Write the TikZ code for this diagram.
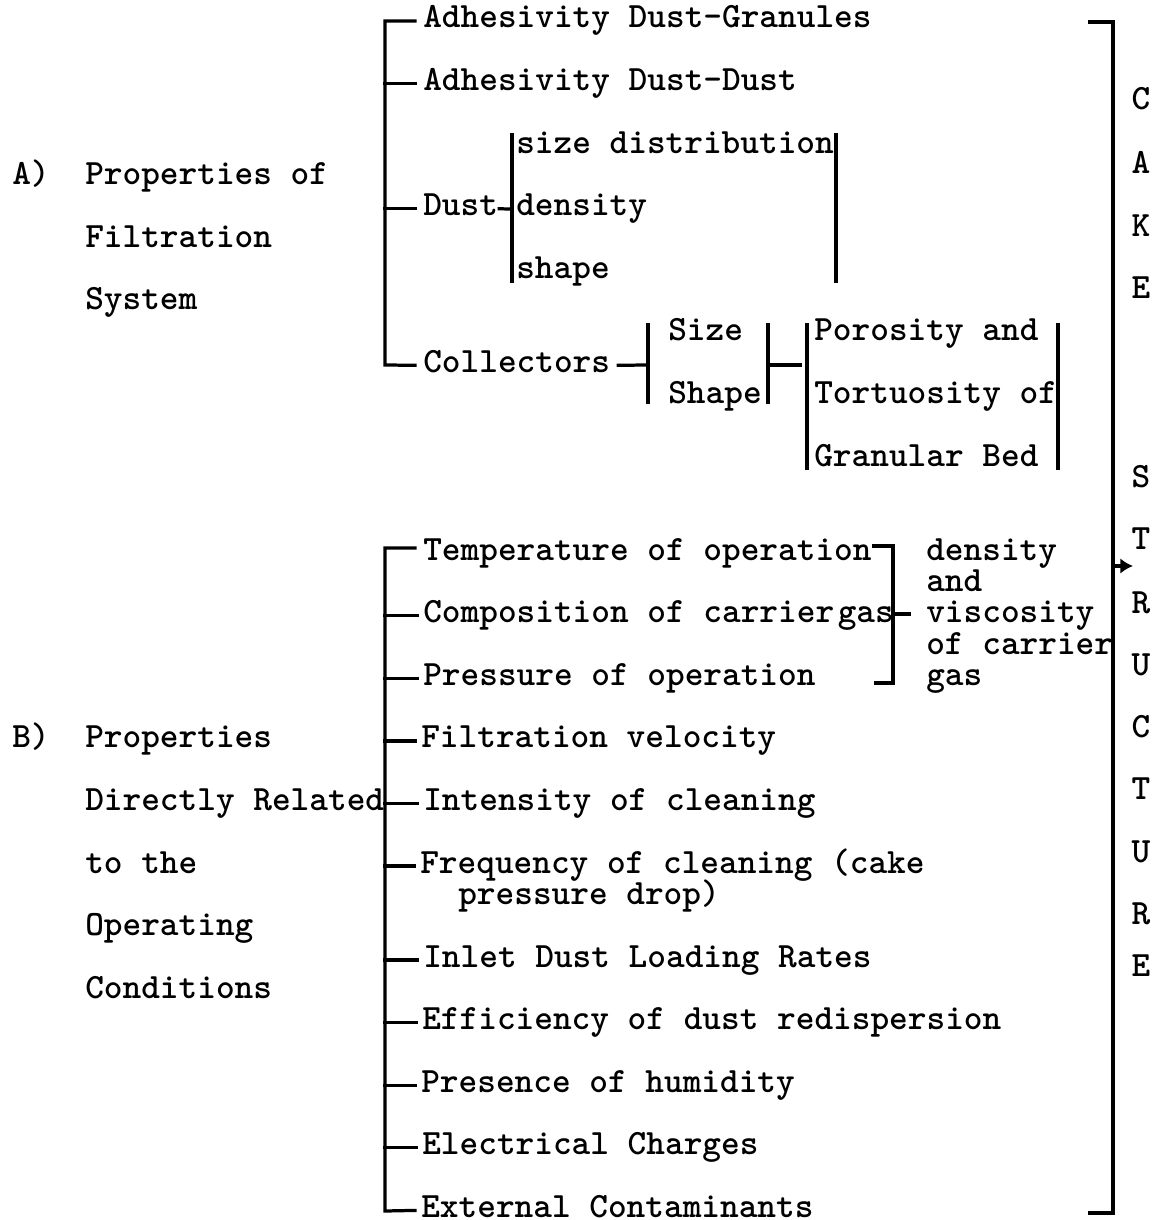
\documentclass[tikz,border=0pt]{standalone}
\usetikzlibrary{arrows.meta}

\newcommand{\typewr}{\fontsize{25.3}{30}\selectfont\ttfamily\bfseries}

\tikzset{
  txt/.style={anchor=base west, inner sep=0pt, font=\typewr},
  ltr/.style={anchor=center, inner sep=0pt, font=\typewr},
  brk/.style={line width=2.3pt, line cap=rect},
}

\begin{document}
\begin{tikzpicture}[x=0.025cm, y=-0.025cm]
\useasboundingbox (0,0) rectangle (1159,1220);

% group A: filtration system
\node[txt] (lblA) at (12,184.5) {A)};
\node[txt] (pA1) at (85,184.5) {Properties of};
\node[txt] (pA2) at (85,247.1) {Filtration};
\node[txt] (pA3) at (85,309.7) {System};

\node[txt] (adhG) at (423,28) {Adhesivity Dust-Granules};
\node[txt] (adhD) at (423,90.6) {Adhesivity Dust-Dust};
\node[txt] (dust) at (423,215.8) {Dust};
\node[txt] (sizeD) at (516,153.2) {size distribution};
\node[txt] (dens) at (516,215.8) {density};
\node[txt] (shp) at (516,278.4) {shape};
\node[txt] (coll) at (423,372.3) {Collectors};
\node[txt] (csize) at (668,341) {Size};
\node[txt] (cshape) at (668,403.6) {Shape};
\node[txt] (poro) at (814,341) {Porosity and};
\node[txt] (tort) at (814,403.6) {Tortuosity of};
\node[txt] (gran) at (814,466.2) {Granular Bed};

\draw[brk] ([shift={(-8,-7)}]adhG.base west) -| (385,365) -- ([shift={(-8,-7)}]coll.base west);
\draw[brk] ([shift={(-8,-7)}]adhD.base west) -- ++(-30,0);
\draw[brk] ([shift={(-8,-7)}]dust.base west) -- ++(-30,0);

\draw[brk] ([shift={(1,-7)}]dust.base east) -- (512,209);
\draw[brk] (512,135) -- (512,281);
\draw[brk] (836,135) -- (836,281);

\draw[brk] ([shift={(8,-7)}]coll.base east) -- (647,365);
\draw[brk] (648,325) -- (648,402);
\draw[brk] (768,325) -- (768,402);
\draw[brk] (768,365) -- (800,365);
\draw[brk] (807,325) -- (807,468);
\draw[brk] (1058,325) -- (1058,468);

% group B: operating conditions
\node[txt] (lblB) at (12,747.9) {B)};
\node[txt] (pB1) at (85,747.9) {Properties};
\node[txt] (pB2) at (85,810.5) {Directly Related};
\node[txt] (pB3) at (85,873.1) {to the};
\node[txt] (pB4) at (85,935.7) {Operating};
\node[txt] (pB5) at (85,998.3) {Conditions};

\node[txt] (temp) at (423,560.1) {Temperature of operation};
\node[txt] (comp) at (423,622.7) {Composition of carrier\kern0.1em gas};
\node[txt] (press) at (423,685.3) {Pressure of operation};
\node[txt] (filt) at (421,747.9) {Filtration velocity};
\node[txt] (inten) at (423,810.5) {Intensity of cleaning};
\node[txt] (freq) at (420,873.1) {Frequency of cleaning (cake};
\node[txt] (freq2) at (458,904.4) {pressure drop)};
\node[txt] (inlet) at (423,967) {Inlet Dust Loading Rates};
\node[txt] (effic) at (422,1029.6) {Efficiency of dust redispersion};
\node[txt] (pres) at (421,1092.2) {Presence of humidity};
\node[txt] (elec) at (422,1154.8) {Electrical Charges};
\node[txt] (ext) at (421,1217.4) {External Contaminants};

\node[txt] (gas1) at (926,560.1) {density};
\node[txt] (gas2) at (926,591.4) {and};
\node[txt] (gas3) at (926,622.7) {viscosity};
\node[txt] (gas4) at (926,654) {of carrier};
\node[txt] (gas5) at (926,685.3) {gas};

\draw[brk] ([shift={(-8,-12)}]temp.base west) -| (385,1211) -- ([shift={(-6,-7)}]ext.base west);
\foreach \n in {comp,press,filt,inten,freq,inlet,effic,pres,elec} {
  \coordinate (t\n) at ([shift={(-6,-7)}]\n.base west);
  \draw[brk] (t\n) -- (385,0 |- t\n);
}

\draw[brk] ([shift={(2,-14)}]temp.base east) -| (893,683) -- (876,683);
\draw[brk] (893,614) -- (909,614);

% cake structure
\draw[brk] (1090,22) -- (1113,22) -- (1113,1213) -- (1090,1213);
\draw[brk, -{Latex[length=9pt,width=11pt]}] (1113,566) -- (1133,566);

\foreach \c/\y [count=\i] in {C/99,A/162,K/226,E/288,S/477,T/539,R/603,U/665,C/727,T/789,U/852,R/914,E/966}
  \node[ltr] (cs\i) at (1141,\y) {\c};
\end{tikzpicture}
\end{document}
